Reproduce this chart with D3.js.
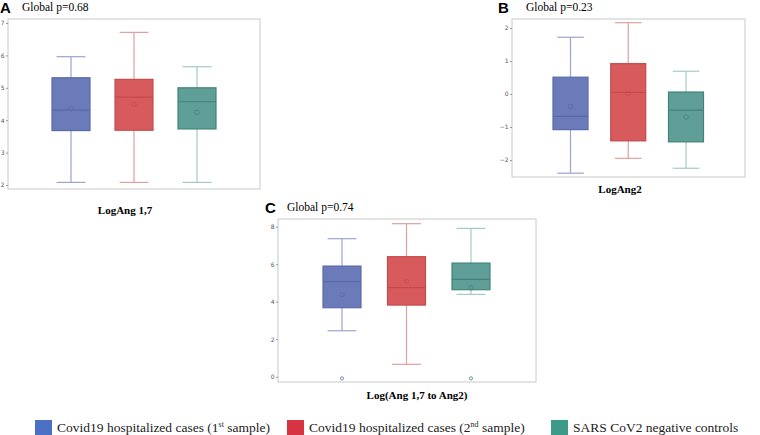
<!DOCTYPE html>
<html lang="en">
<head>
    <meta charset="UTF-8"/>
    <title>Angiotensin box plots</title>
    <script src="https://d3js.org/d3.v7.min.js"></script>
    <style>
        body { margin: 0; background: #fff; overflow: hidden; }
        .tick text { font-family: "DejaVu Sans", sans-serif; font-size: 6px; fill: #555; }
        .serif { font-family: "Liberation Serif", "Times New Roman", serif; }
    </style>
</head>
<body>
    <div id="chart"></div>
    <script>
        // groups in every panel
        var groups = ["Covid19 hospitalized cases (1st sample)",
                      "Covid19 hospitalized cases (2nd sample)",
                      "SARS CoV2 negative controls"];
        var boxFill   = ["#6b7ab9", "#d75b5c", "#5f9f97"];
        var boxLine   = ["#5a69aa", "#c64a4c", "#3f8479"];
        var whiskCol  = ["#9ba4cf", "#e29fa0", "#a3cbc4"];
        var legendCol = ["#4a70c6", "#d83340", "#3c9b88"];

        // panel A: LogAng 1,7  [low, q1, median, q3, high]
        var statsA = [[2.08, 3.68, 4.31, 5.31, 5.96],
                      [2.08, 3.69, 4.71, 5.26, 6.71],
                      [2.08, 3.73, 4.57, 5.00, 5.65]];
        var meansA = [4.35, 4.49, 4.24];
        var ticksA = [2, 3, 4, 5, 6, 7];

        // panel B: LogAng2
        var statsB = [[-2.40, -1.08, -0.68, 0.51, 1.72],
                      [-1.95, -1.42, 0.05, 0.92, 2.16],
                      [-2.25, -1.45, -0.49, 0.06, 0.69]];
        var meansB = [-0.38, 0.01, -0.70];
        var ticksB = [-2, -1, 0, 1, 2];

        // panel C: Log(Ang 1,7 to Ang2)
        var statsC = [[2.45, 3.68, 5.07, 5.90, 7.36],
                      [0.66, 3.82, 4.75, 6.40, 8.16],
                      [4.39, 4.64, 5.19, 6.06, 7.91]];
        var meansC = [4.37, 5.09, 4.75];
        var outliersC = [[0, -0.09], [2, -0.09]];
        var ticksC = [0, 2, 4, 6, 8];

        var w = 760, h = 435;

        var svg = d3.select("#chart").append("svg")
                    .attr("width", w).attr("height", h);

        function drawPanel(p) {
            var g = svg.append("g");

            var y = d3.scaleLinear()
                      .domain(p.tickRange)
                      .range([p.tickPix[0], p.tickPix[1]]);
            var x = d3.scalePoint()
                      .domain([0, 1, 2])
                      .range(p.xRange);

            // frame
            g.append("rect")
                .attr("x", p.left).attr("y", p.top)
                .attr("width", p.right - p.left).attr("height", p.bottom - p.top)
                .attr("fill", "none").attr("stroke", "#c8c8c8").attr("stroke-width", 1);

            var axis = d3.axisLeft(y).tickValues(p.ticks)
                         .tickFormat(d3.format("d"))
                         .tickSize(2).tickPadding(1.5);
            var ag = g.append("g")
                .attr("transform", "translate(" + p.left + ",0)")
                .call(axis);
            ag.select(".domain").remove();
            ag.selectAll(".tick line").attr("stroke", "#999");

            var bw = p.boxWidth;
            var boxes = g.selectAll(".box").data(p.stats).enter().append("g");

            // whiskers
            boxes.append("line")
                .attr("x1", function(d, i) { return x(i); })
                .attr("x2", function(d, i) { return x(i); })
                .attr("y1", function(d) { return y(d[0]); })
                .attr("y2", function(d) { return y(d[4]); })
                .attr("stroke", function(d, i) { return whiskCol[i]; })
                .attr("stroke-width", 1.2);
            [0, 4].forEach(function(k) {
                boxes.append("line")
                    .attr("x1", function(d, i) { return x(i) - bw * 0.38; })
                    .attr("x2", function(d, i) { return x(i) + bw * 0.38; })
                    .attr("y1", function(d) { return y(d[k]); })
                    .attr("y2", function(d) { return y(d[k]); })
                    .attr("stroke", function(d, i) { return whiskCol[i]; })
                    .attr("stroke-width", 1.2);
            });

            // box
            boxes.append("rect")
                .attr("x", function(d, i) { return x(i) - bw / 2; })
                .attr("width", bw)
                .attr("y", function(d) { return y(d[3]); })
                .attr("height", function(d) { return y(d[1]) - y(d[3]); })
                .attr("fill", function(d, i) { return boxFill[i]; })
                .attr("stroke", function(d, i) { return boxLine[i]; })
                .attr("stroke-width", 1.2);

            // median
            boxes.append("line")
                .attr("x1", function(d, i) { return x(i) - bw / 2; })
                .attr("x2", function(d, i) { return x(i) + bw / 2; })
                .attr("y1", function(d) { return y(d[2]); })
                .attr("y2", function(d) { return y(d[2]); })
                .attr("stroke", function(d, i) { return boxLine[i]; })
                .attr("stroke-width", 1.2);

            // means
            g.selectAll(".mean").data(p.means).enter().append("circle")
                .attr("cx", function(d, i) { return x(i); })
                .attr("cy", function(d) { return y(d); })
                .attr("r", 2.2)
                .attr("fill", "none")
                .attr("stroke", function(d, i) { return boxLine[i]; })
                .attr("stroke-width", 0.8);

            // outliers
            g.selectAll(".out").data(p.outliers || []).enter().append("circle")
                .attr("cx", function(d) { return x(d[0]); })
                .attr("cy", function(d) { return y(d[1]); })
                .attr("r", 1.6)
                .attr("fill", "none")
                .attr("stroke", function(d) { return boxLine[d[0]]; })
                .attr("stroke-width", 0.8);

            // panel letter and p value
            g.append("text")
                .attr("x", p.letterX).attr("y", p.top - 6)
                .attr("font-family", "Liberation Sans, Arial, sans-serif")
                .attr("font-weight", "bold").attr("font-size", 15)
                .text(p.letter);
            g.append("text").attr("class", "serif")
                .attr("x", p.pX).attr("y", p.top - 8)
                .attr("font-size", 11.5)
                .text(p.pText);

            // x label
            g.append("text").attr("class", "serif")
                .attr("x", p.labelX).attr("y", p.labelY)
                .attr("text-anchor", "middle")
                .attr("font-weight", "bold").attr("font-size", 11)
                .text(p.label);
        }

        drawPanel({
            letter: "A", pText: "Global p=0.68", label: "LogAng 1,7",
            left: 8, right: 260, top: 19, bottom: 189,
            tickRange: [2, 7], tickPix: [185, 23],
            xRange: [71, 197], boxWidth: 38, letterX: 0, pX: 22,
            labelX: 125, labelY: 214,
            stats: statsA, means: meansA, ticks: ticksA
        });

        drawPanel({
            letter: "B", pText: "Global p=0.23", label: "LogAng2",
            left: 512, right: 745, top: 19, bottom: 177,
            tickRange: [-2, 2], tickPix: [160, 28],
            xRange: [570.5, 686], boxWidth: 35, letterX: 498, pX: 526,
            labelX: 620, labelY: 193,
            stats: statsB, means: meansB, ticks: ticksB
        });

        drawPanel({
            letter: "C", pText: "Global p=0.74", label: "Log(Ang 1,7 to Ang2)",
            left: 278, right: 536, top: 219, bottom: 382,
            tickRange: [0, 8], tickPix: [376.7, 226.7],
            xRange: [342, 471], boxWidth: 38, letterX: 265, pX: 287,
            labelX: 417, labelY: 399,
            stats: statsC, means: meansC, outliers: outliersC, ticks: ticksC
        });

        // legend
        var legendX = [35, 287, 551];
        var leg = svg.selectAll(".leg").data(groups).enter().append("g")
            .attr("transform", function(d, i) { return "translate(" + legendX[i] + ",420)"; });
        leg.append("rect")
            .attr("width", 17).attr("height", 15)
            .attr("fill", function(d, i) { return legendCol[i]; });
        var lt = leg.append("text").attr("class", "serif")
            .attr("x", 22).attr("y", 11.5)
            .attr("font-size", 13.5).attr("fill", "#222");
        lt.each(function(d) {
            var t = d3.select(this);
            var m = d.match(/^(.*\()(\d)(st|nd)( sample\))$/);
            if (m) {
                t.append("tspan").text(m[1] + m[2]);
                t.append("tspan").attr("dy", -5).attr("font-size", 8).text(m[3]);
                t.append("tspan").attr("dy", 5).text(m[4]);
            } else {
                t.text(d);
            }
        });
    </script>
</body>
</html>
